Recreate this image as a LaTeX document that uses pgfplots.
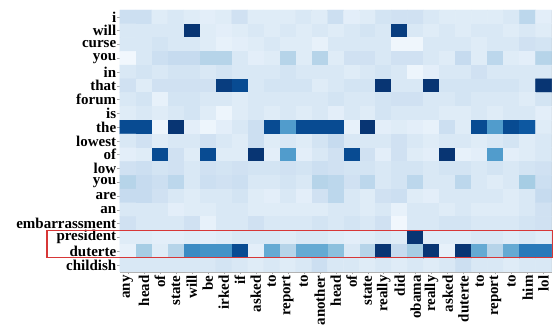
\documentclass[border=0pt]{standalone}
\usepackage{pgfplots}
\pgfplotsset{compat=1.18}
\usepackage{fontspec}
\setmainfont{Liberation Serif}
\begin{document}
\begin{tikzpicture}
\begin{axis}[
  at={(0pt,0pt)}, anchor=south west,
  scale only axis, width=432pt, height=262pt,
  xmin=-0.5, xmax=26.5, ymin=-0.5, ymax=18.5,
  y dir=reverse, enlargelimits=false, clip=false,
  colormap={blues}{rgb255(0cm)=(247,251,255) rgb255(1cm)=(222,235,247) rgb255(2cm)=(198,219,239) rgb255(3cm)=(158,202,225) rgb255(4cm)=(107,174,214) rgb255(5cm)=(66,146,198) rgb255(6cm)=(33,113,181) rgb255(7cm)=(8,81,156) rgb255(8cm)=(8,48,107)},
  point meta min=0, point meta max=1,
  xtick={0,...,26}, ytick={0,...,18},
  xticklabels={any,head,of,state,will,be,irked,if,asked,to,report,to,another,head,of,state,really,did,obama,really,asked,duterte,to,report,to,him,lol},
  yticklabels={i,will,curse,you,in,that,forum,is,the,lowest,of,low,you,are,an,embarrassment,president,duterte,childish},
  tick label style={font=\bfseries\fontsize{15}{15}\selectfont, inner sep=1pt},
  x tick label style={rotate=90, anchor=east},
  y tick label style={anchor=east},
  tick align=outside, major tick length=2.5pt,
  tick style={gray!70, line width=0.4pt},
  xtick pos=bottom, ytick pos=left,
  axis line style={gray!60, line width=0.5pt},
]
\addplot[matrix plot*, mesh/cols=27, point meta=explicit] coordinates {
(0,0)[0.22] (1,0)[0.22] (2,0)[0.12] (3,0)[0.15] (4,0)[0.12] (5,0)[0.10] (6,0)[0.12] (7,0)[0.20] (8,0)[0.12] (9,0)[0.12] (10,0)[0.12] (11,0)[0.15] (12,0)[0.12] (13,0)[0.22] (14,0)[0.10] (15,0)[0.12] (16,0)[0.18] (17,0)[0.20] (18,0)[0.20] (19,0)[0.15] (20,0)[0.12] (21,0)[0.12] (22,0)[0.12] (23,0)[0.12] (24,0)[0.15] (25,0)[0.28] (26,0)[0.10]

(0,1)[0.15] (1,1)[0.15] (2,1)[0.15] (3,1)[0.15] (4,1)[0.98] (5,1)[0.12] (6,1)[0.10] (7,1)[0.12] (8,1)[0.15] (9,1)[0.12] (10,1)[0.15] (11,1)[0.12] (12,1)[0.15] (13,1)[0.12] (14,1)[0.15] (15,1)[0.18] (16,1)[0.15] (17,1)[0.95] (18,1)[0.15] (19,1)[0.12] (20,1)[0.15] (21,1)[0.12] (22,1)[0.15] (23,1)[0.15] (24,1)[0.12] (25,1)[0.15] (26,1)[0.12]

(0,2)[0.15] (1,2)[0.15] (2,2)[0.18] (3,2)[0.15] (4,2)[0.15] (5,2)[0.12] (6,2)[0.08] (7,2)[0.10] (8,2)[0.12] (9,2)[0.15] (10,2)[0.12] (11,2)[0.12] (12,2)[0.08] (13,2)[0.15] (14,2)[0.15] (15,2)[0.15] (16,2)[0.15] (17,2)[0.04] (18,2)[0.04] (19,2)[0.15] (20,2)[0.15] (21,2)[0.15] (22,2)[0.12] (23,2)[0.15] (24,2)[0.15] (25,2)[0.20] (26,2)[0.18]

(0,3)[0.03] (1,3)[0.15] (2,3)[0.22] (3,3)[0.25] (4,3)[0.25] (5,3)[0.30] (6,3)[0.30] (7,3)[0.15] (8,3)[0.10] (9,3)[0.12] (10,3)[0.30] (11,3)[0.12] (12,3)[0.30] (13,3)[0.12] (14,3)[0.20] (15,3)[0.20] (16,3)[0.15] (17,3)[0.20] (18,3)[0.20] (19,3)[0.15] (20,3)[0.12] (21,3)[0.25] (22,3)[0.12] (23,3)[0.28] (24,3)[0.12] (25,3)[0.10] (26,3)[0.30]

(0,4)[0.15] (1,4)[0.18] (2,4)[0.15] (3,4)[0.18] (4,4)[0.18] (5,4)[0.15] (6,4)[0.18] (7,4)[0.15] (8,4)[0.15] (9,4)[0.15] (10,4)[0.18] (11,4)[0.15] (12,4)[0.15] (13,4)[0.15] (14,4)[0.12] (15,4)[0.15] (16,4)[0.18] (17,4)[0.15] (18,4)[0.05] (19,4)[0.10] (20,4)[0.15] (21,4)[0.15] (22,4)[0.20] (23,4)[0.15] (24,4)[0.15] (25,4)[0.15] (26,4)[0.15]

(0,5)[0.20] (1,5)[0.12] (2,5)[0.20] (3,5)[0.20] (4,5)[0.20] (5,5)[0.20] (6,5)[0.95] (7,5)[0.90] (8,5)[0.15] (9,5)[0.18] (10,5)[0.18] (11,5)[0.18] (12,5)[0.12] (13,5)[0.15] (14,5)[0.18] (15,5)[0.18] (16,5)[0.98] (17,5)[0.15] (18,5)[0.15] (19,5)[0.98] (20,5)[0.18] (21,5)[0.18] (22,5)[0.18] (23,5)[0.18] (24,5)[0.18] (25,5)[0.15] (26,5)[0.98]

(0,6)[0.15] (1,6)[0.18] (2,6)[0.08] (3,6)[0.18] (4,6)[0.18] (5,6)[0.15] (6,6)[0.15] (7,6)[0.12] (8,6)[0.15] (9,6)[0.15] (10,6)[0.15] (11,6)[0.15] (12,6)[0.15] (13,6)[0.18] (14,6)[0.15] (15,6)[0.15] (16,6)[0.18] (17,6)[0.20] (18,6)[0.20] (19,6)[0.15] (20,6)[0.15] (21,6)[0.18] (22,6)[0.15] (23,6)[0.15] (24,6)[0.15] (25,6)[0.12] (26,6)[0.18]

(0,7)[0.12] (1,7)[0.15] (2,7)[0.12] (3,7)[0.15] (4,7)[0.18] (5,7)[0.12] (6,7)[0.05] (7,7)[0.12] (8,7)[0.15] (9,7)[0.12] (10,7)[0.15] (11,7)[0.12] (12,7)[0.15] (13,7)[0.10] (14,7)[0.15] (15,7)[0.12] (16,7)[0.18] (17,7)[0.15] (18,7)[0.15] (19,7)[0.15] (20,7)[0.12] (21,7)[0.12] (22,7)[0.15] (23,7)[0.12] (24,7)[0.15] (25,7)[0.15] (26,7)[0.10]

(0,8)[0.90] (1,8)[0.90] (2,8)[0.05] (3,8)[0.98] (4,8)[0.10] (5,8)[0.05] (6,8)[0.10] (7,8)[0.15] (8,8)[0.22] (9,8)[0.90] (10,8)[0.58] (11,8)[0.90] (12,8)[0.90] (13,8)[0.90] (14,8)[0.08] (15,8)[0.98] (16,8)[0.10] (17,8)[0.12] (18,8)[0.10] (19,8)[0.08] (20,8)[0.22] (21,8)[0.12] (22,8)[0.90] (23,8)[0.58] (24,8)[0.90] (25,8)[0.85] (26,8)[0.12]

(0,9)[0.15] (1,9)[0.20] (2,9)[0.12] (3,9)[0.15] (4,9)[0.15] (5,9)[0.20] (6,9)[0.15] (7,9)[0.12] (8,9)[0.22] (9,9)[0.12] (10,9)[0.15] (11,9)[0.12] (12,9)[0.18] (13,9)[0.25] (14,9)[0.15] (15,9)[0.15] (16,9)[0.15] (17,9)[0.20] (18,9)[0.15] (19,9)[0.12] (20,9)[0.15] (21,9)[0.15] (22,9)[0.12] (23,9)[0.15] (24,9)[0.18] (25,9)[0.12] (26,9)[0.15]

(0,10)[0.10] (1,10)[0.12] (2,10)[0.90] (3,10)[0.20] (4,10)[0.12] (5,10)[0.90] (6,10)[0.12] (7,10)[0.12] (8,10)[0.98] (9,10)[0.10] (10,10)[0.58] (11,10)[0.10] (12,10)[0.15] (13,10)[0.20] (14,10)[0.90] (15,10)[0.20] (16,10)[0.10] (17,10)[0.20] (18,10)[0.12] (19,10)[0.10] (20,10)[0.98] (21,10)[0.08] (22,10)[0.10] (23,10)[0.58] (24,10)[0.10] (25,10)[0.12] (26,10)[0.15]

(0,11)[0.20] (1,11)[0.22] (2,11)[0.18] (3,11)[0.20] (4,11)[0.15] (5,11)[0.20] (6,11)[0.18] (7,11)[0.20] (8,11)[0.18] (9,11)[0.18] (10,11)[0.20] (11,11)[0.18] (12,11)[0.22] (13,11)[0.20] (14,11)[0.18] (15,11)[0.18] (16,11)[0.15] (17,11)[0.18] (18,11)[0.18] (19,11)[0.15] (20,11)[0.18] (21,11)[0.18] (22,11)[0.15] (23,11)[0.18] (24,11)[0.15] (25,11)[0.18] (26,11)[0.20]

(0,12)[0.30] (1,12)[0.25] (2,12)[0.22] (3,12)[0.28] (4,12)[0.15] (5,12)[0.22] (6,12)[0.20] (7,12)[0.22] (8,12)[0.15] (9,12)[0.15] (10,12)[0.18] (11,12)[0.15] (12,12)[0.30] (13,12)[0.28] (14,12)[0.20] (15,12)[0.28] (16,12)[0.15] (17,12)[0.18] (18,12)[0.28] (19,12)[0.15] (20,12)[0.15] (21,12)[0.28] (22,12)[0.15] (23,12)[0.12] (24,12)[0.15] (25,12)[0.35] (26,12)[0.22]

(0,13)[0.25] (1,13)[0.25] (2,13)[0.20] (3,13)[0.15] (4,13)[0.12] (5,13)[0.15] (6,13)[0.15] (7,13)[0.18] (8,13)[0.12] (9,13)[0.10] (10,13)[0.15] (11,13)[0.10] (12,13)[0.20] (13,13)[0.28] (14,13)[0.15] (15,13)[0.12] (16,13)[0.20] (17,13)[0.22] (18,13)[0.12] (19,13)[0.10] (20,13)[0.15] (21,13)[0.15] (22,13)[0.15] (23,13)[0.15] (24,13)[0.12] (25,13)[0.15] (26,13)[0.25]

(0,14)[0.15] (1,14)[0.15] (2,14)[0.15] (3,14)[0.10] (4,14)[0.12] (5,14)[0.12] (6,14)[0.15] (7,14)[0.15] (8,14)[0.12] (9,14)[0.12] (10,14)[0.12] (11,14)[0.12] (12,14)[0.12] (13,14)[0.15] (14,14)[0.15] (15,14)[0.12] (16,14)[0.15] (17,14)[0.08] (18,14)[0.15] (19,14)[0.15] (20,14)[0.12] (21,14)[0.15] (22,14)[0.12] (23,14)[0.12] (24,14)[0.12] (25,14)[0.15] (26,14)[0.20]

(0,15)[0.20] (1,15)[0.15] (2,15)[0.15] (3,15)[0.15] (4,15)[0.20] (5,15)[0.08] (6,15)[0.15] (7,15)[0.15] (8,15)[0.20] (9,15)[0.15] (10,15)[0.15] (11,15)[0.15] (12,15)[0.18] (13,15)[0.15] (14,15)[0.18] (15,15)[0.15] (16,15)[0.20] (17,15)[0.03] (18,15)[0.15] (19,15)[0.15] (20,15)[0.18] (21,15)[0.18] (22,15)[0.15] (23,15)[0.15] (24,15)[0.15] (25,15)[0.18] (26,15)[0.20]

(0,16)[0.12] (1,16)[0.12] (2,16)[0.10] (3,16)[0.10] (4,16)[0.12] (5,16)[0.10] (6,16)[0.12] (7,16)[0.15] (8,16)[0.15] (9,16)[0.15] (10,16)[0.12] (11,16)[0.15] (12,16)[0.15] (13,16)[0.12] (14,16)[0.10] (15,16)[0.12] (16,16)[0.15] (17,16)[0.12] (18,16)[0.98] (19,16)[0.12] (20,16)[0.12] (21,16)[0.12] (22,16)[0.15] (23,16)[0.15] (24,16)[0.12] (25,16)[0.15] (26,16)[0.12]

(0,17)[0.08] (1,17)[0.35] (2,17)[0.12] (3,17)[0.30] (4,17)[0.65] (5,17)[0.62] (6,17)[0.62] (7,17)[0.90] (8,17)[0.10] (9,17)[0.52] (10,17)[0.30] (11,17)[0.52] (12,17)[0.52] (13,17)[0.42] (14,17)[0.15] (15,17)[0.30] (16,17)[0.98] (17,17)[0.25] (18,17)[0.35] (19,17)[0.98] (20,17)[0.08] (21,17)[0.98] (22,17)[0.52] (23,17)[0.30] (24,17)[0.52] (25,17)[0.72] (26,17)[0.72]

(0,18)[0.15] (1,18)[0.15] (2,18)[0.15] (3,18)[0.15] (4,18)[0.15] (5,18)[0.15] (6,18)[0.18] (7,18)[0.15] (8,18)[0.12] (9,18)[0.15] (10,18)[0.12] (11,18)[0.15] (12,18)[0.22] (13,18)[0.15] (14,18)[0.15] (15,18)[0.12] (16,18)[0.15] (17,18)[0.12] (18,18)[0.15] (19,18)[0.12] (20,18)[0.15] (21,18)[0.22] (22,18)[0.15] (23,18)[0.15] (24,18)[0.12] (25,18)[0.15] (26,18)[0.15]
};
\draw[draw={rgb,255:red,215;green,55;blue,55}, line width=1.3pt] (axis cs:-5.06,15.5) rectangle (axis cs:26.55,17.45);
\end{axis}
\path[use as bounding box] (-120pt,-57pt) rectangle (433pt,272pt);
\end{tikzpicture}
\end{document}
